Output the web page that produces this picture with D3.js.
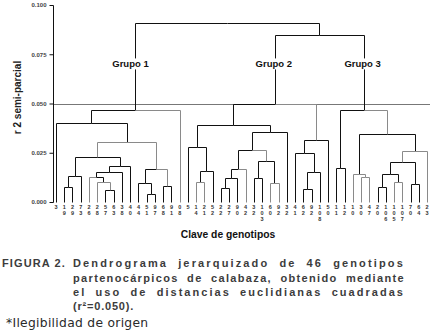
<!DOCTYPE html>
<html><head><meta charset="utf-8">
<script src="https://cdn.jsdelivr.net/npm/d3@7"></script>
<style>html,body{margin:0;padding:0;background:#fff;} svg{display:block;}</style>
</head><body>
<svg id="c" width="433" height="333"></svg>
<script>
// ---------- DATA ----------
const leafTop = ["3","1","2","7","2","2","5","6","3","4","4","5","9","6","9","0","5","1","2","5","2","2","9","4","3","1","6","9","3","4","6","9","1","5","1","1","1","3","4","2","1","1","1","7","6","2"];
const leafMid = ["","9","9","3","6","8","7","3","8","0","4","1","7","8","1","8","","4","1","2","2","7","0","2","2","0","0","2","2","1","2","2","0","0","1","2","0","0","7","0","0","0","0","0","4","3"];
const leafLow = ["","","","","","","","","","","","","","","","","","","","","","","","","","3","","","","","","","8","","","","","","","","6","5","7","","",""];
// linkage: [left id, right id, semi-partial r2]; leaves 0..45, merged nodes 46..
const merges = [
  [1,2,0.0075],[46,3,0.0134],[6,7,0.0061],[5,48,0.0100],[4,49,0.0129],[50,8,0.0151],[51,9,0.0185],[47,52,0.0230],
  [11,12,0.0039],[10,54,0.0095],[13,14,0.0081],[55,56,0.0166],[53,57,0.0304],[0,58,0.0400],[59,15,0.0468],
  [17,18,0.0103],[61,19,0.0158],[16,62,0.0281],[20,21,0.0070],[64,22,0.0120],[65,23,0.0166],[24,25,0.0120],
  [26,27,0.0095],[67,68,0.0208],[66,69,0.0264],[70,28,0.0357],[63,71,0.0391],[30,31,0.0065],[73,32,0.0154],
  [29,74,0.0248],[75,33,0.0315],[72,76,0.0495],
  [34,35,0.0171],[37,38,0.0126],[36,79,0.0142],[39,40,0.0078],[41,42,0.0103],[81,82,0.0142],[43,44,0.0090],
  [83,84,0.0203],[85,45,0.0259],[80,86,0.0346],[78,87,0.0468],[77,88,0.0849],[60,89,0.0908]
];
const yTicks = [0, 0.025, 0.05, 0.075, 0.1];
const cutValue = 0.050;
const groupNames = ["Grupo 1","Grupo 2","Grupo 3"];
const groupNodes = [60, 77, 88];
const captionHead = "FIGURA 2.";
const captionLines = ["Dendrograma jerarquizado de 46 genotipos","partenocárpicos de calabaza, obtenido mediante","el uso de distancias euclidianas cuadradas","(r²=0.050)."];
const footnote = "*Ilegibilidad de origen";

// ---------- STYLE ----------
const greyChildren = new Set([15,53,57,4,5,48,56,17,18,23,26,27,76,69,87,36,79,37,38,45,85,41,42]);
const svg = d3.select("#c");
const nLeaf = leafTop.length;
const x = d3.scalePoint().domain(d3.range(nLeaf)).range([56, 427]);
const y = d3.scaleLinear().domain([0, 0.1]).range([202, 5]);
const px = v => Math.round(v) + 0.5;

// build tree
const nodes = [];
for (let i = 0; i < nLeaf; i++) nodes.push({id: i, h: 0, children: null});
merges.forEach((m, k) => nodes.push({id: nLeaf + k, h: m[2], children: [nodes[m[0]], nodes[m[1]]]}));
const root = d3.hierarchy(nodes[nodes.length - 1], d => d.children);
root.eachAfter(n => { n.px = n.children ? d3.mean(n.children, c => c.px) : x(n.data.id); });
const posById = {};
root.each(n => posById[n.data.id] = n);

// cut reference line
svg.append("line").attr("x1", 53).attr("x2", 430).attr("y1", px(y(cutValue))).attr("y2", px(y(cutValue)))
  .attr("stroke", "#777").attr("stroke-width", 1);

// links
const g = svg.append("g").attr("fill", "none").attr("stroke-width", 1);
root.each(n => {
  if (!n.children) return;
  n.children.forEach(c => {
    g.append("path")
      .attr("d", `M${px(c.px)},${px(y(c.data.h))}V${px(y(n.data.h))}H${px(n.px)}`)
      .attr("stroke", greyChildren.has(c.data.id) ? "#8a8a8a" : "#111");
  });
});

// axis
const ax = svg.append("g").attr("transform", "translate(53.5,0)")
  .call(d3.axisLeft(y).tickValues(yTicks).tickFormat(d3.format(".3f")).tickSize(4).tickPadding(3));
ax.select(".domain").attr("stroke", "#111").attr("d", `M0,${px(y(0.1))}V${px(y(0))}`);
ax.selectAll(".tick line").attr("stroke", "#111");
ax.selectAll(".tick text").attr("font-family", "Liberation Sans, Arial, sans-serif").attr("font-size", 6)
  .attr("font-weight", "bold").attr("fill", "#444");

// leaf labels
const lab = svg.append("g").attr("font-family", "Liberation Sans, Arial, sans-serif").attr("font-size", 5.5)
  .attr("font-weight", "bold").attr("fill", "#333").attr("text-anchor", "middle");
[[leafTop, 209], [leafMid, 215], [leafLow, 220.5]].forEach(([arr, yy]) => {
  lab.selectAll(null).data(arr.map((t, i) => ({t, i})).filter(d => d.t)).enter().append("text")
    .attr("x", d => x(d.i)).attr("y", yy).text(d => d.t);
});

// group labels
const gl = svg.append("g");
groupNodes.forEach((id, k) => {
  const n = posById[id];
  const cx = n.px + (k === 0 ? -5 : -1);
  const bgr = gl.append("rect").attr("fill", "#fff");
  const t = gl.append("text").attr("x", cx).attr("y", y(0.0700)).attr("dy", "0.35em")
    .attr("text-anchor", "middle").attr("font-family", "Liberation Sans, Arial, sans-serif")
    .attr("font-size", 9.5).attr("font-weight", "bold").attr("fill", "#111").text(groupNames[k]);
  const bb = t.node().getBBox();
  bgr.attr("x", bb.x - 1).attr("y", bb.y).attr("width", bb.width + 2).attr("height", bb.height);
});

// axis titles
svg.append("text").attr("transform", "translate(21,97.5) rotate(-90)").attr("text-anchor", "middle")
  .attr("font-family", "Liberation Sans, Arial, sans-serif").attr("font-size", 10).attr("font-weight", "bold")
  .attr("fill", "#222").text("r 2 semi-parcial");
svg.append("text").attr("x", 228).attr("y", 238).attr("text-anchor", "middle")
  .attr("font-family", "Liberation Sans, Arial, sans-serif").attr("font-size", 10.3).attr("font-weight", "bold")
  .attr("fill", "#111").text("Clave de genotipos");

// caption (justified: tracking + word gaps)
const cap = svg.append("g").attr("font-family", "Liberation Sans, Arial, sans-serif").attr("font-size", 11)
  .attr("font-weight", "bold").attr("fill", "#3c3c3c");
cap.append("text").attr("x", 2).attr("y", 267).attr("letter-spacing", 1.1).text(captionHead);
const capY = [267, 282, 296, 310];
const capX0 = 73, capX1 = 405;
captionLines.forEach((line, i) => {
  const words = line.split(" ");
  const last = i === captionLines.length - 1;
  const measure = ls => words.map(w => {
    const t = cap.append("text").attr("letter-spacing", ls).text(w);
    const wd = t.node().getComputedTextLength(); t.remove(); return wd;
  });
  let ls = 0.8;
  if (!last) {
    const w0 = d3.sum(measure(ls));
    const spare = (capX1 - capX0) - w0 - (words.length - 1) * 7;
    const nch = line.replace(/ /g, "").length;
    if (spare > 0) ls += spare * 0.8 / nch;
  }
  const ws = measure(ls);
  const gap = last ? 4 : ((capX1 - capX0) - d3.sum(ws)) / (words.length - 1);
  let cx = capX0;
  words.forEach((w, j) => {
    cap.append("text").attr("x", cx).attr("y", capY[i]).attr("letter-spacing", ls).text(w);
    cx += ws[j] + gap;
  });
});
svg.append("text").attr("x", 6).attr("y", 327).attr("font-family", "DejaVu Sans, Verdana, sans-serif")
  .attr("font-size", 12.3).attr("letter-spacing", 0.3).attr("fill", "#2a2a2a").text(footnote);
</script>
</body></html>
